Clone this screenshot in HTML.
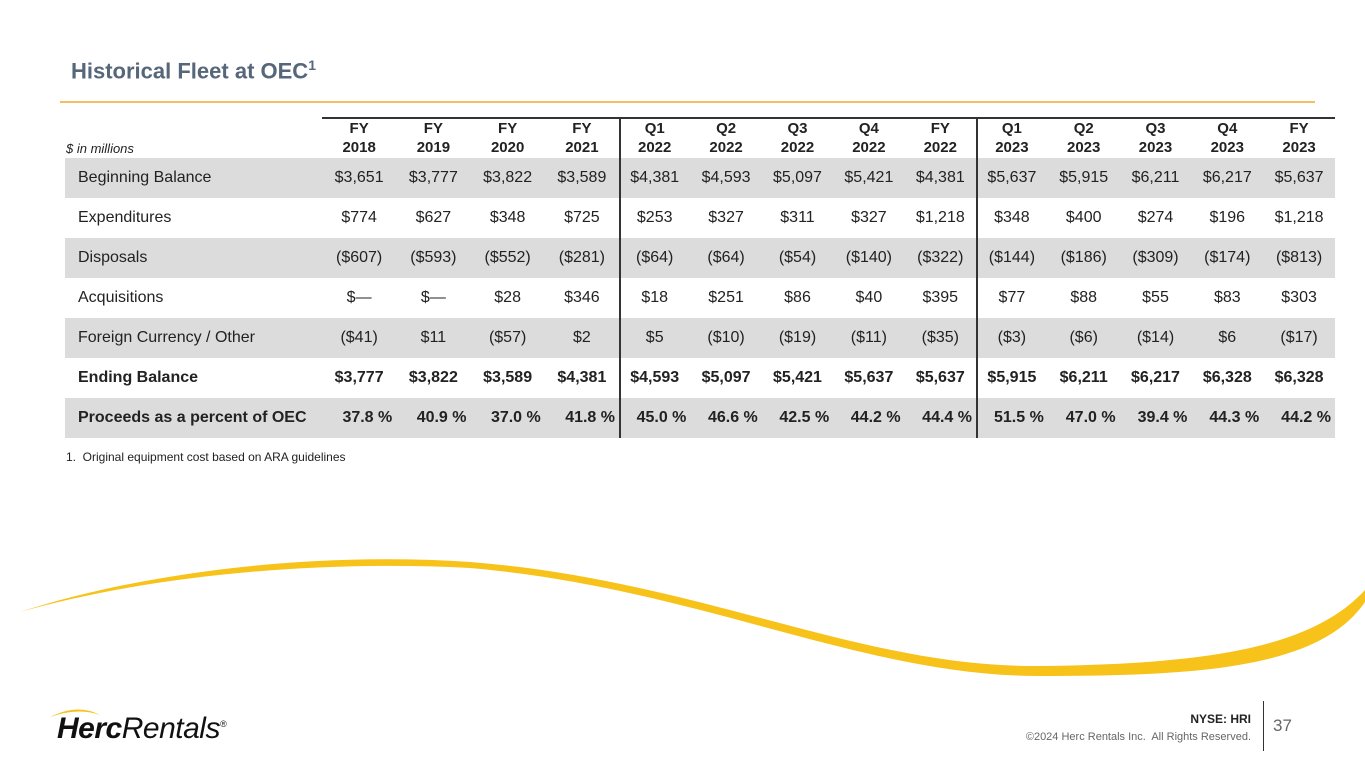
<!DOCTYPE html>
<html><head><meta charset="utf-8"><style>
body{margin:0;width:1365px;height:769px;overflow:hidden;background:#fff;font-family:"Liberation Sans",sans-serif;position:relative}
.a{position:absolute}
.cell{position:absolute;text-align:center;font-size:16px;color:#222;line-height:40px;height:40px}
.lbl{position:absolute;left:78px;font-size:16px;color:#222;line-height:40px}
.hd{position:absolute;text-align:center;font-size:15px;font-weight:bold;color:#222;line-height:19px}
</style></head><body>
<div class="a" style="left:71px;top:57px;font-size:22px;font-weight:bold;color:#56677a">Historical Fleet at OEC<sup style="font-size:14px">1</sup></div>
<div class="a" style="left:60px;top:101px;width:1255px;height:2px;background:#f2c060"></div>
<svg class="a" style="left:0;top:0" width="1365" height="769">
<path d="M20,612 C150,570 320,552 470,562 C700,580 860,668 1040,666 C1200,664 1310,650 1365,590 L1365,602 C1320,668 1200,676 1040,676 C860,676 700,588 470,568 C320,560 150,575 20,612Z" fill="#f7c21a"/>
</svg>
<div class="a" style="left:66px;top:141px;font-size:13px;font-style:italic;color:#222">$ in millions</div>
<div id="tbl"></div>
<div class="a" style="left:66px;top:450px;font-size:12px;color:#222">1.&nbsp; Original equipment cost based on ARA guidelines</div>
<div class="a" style="left:57px;top:712px;font-size:30px;color:#111;font-style:italic;letter-spacing:-0.5px"><b style="font-weight:900">Herc</b>Rentals<sup style="font-size:9px">®</sup></div>
<svg class="a" style="left:48px;top:705px" width="70" height="16"><path d="M2,12 Q30,-2 52,10 Q30,2 2,12Z" fill="#f7c21a"/></svg>
<div class="a" style="right:114px;top:712px;font-size:12px;font-weight:bold;color:#222">NYSE: HRI</div>
<div class="a" style="right:114px;top:731px;font-size:11px;color:#666">©2024 Herc Rentals Inc.&nbsp; All Rights Reserved.</div>
<div class="a" style="left:1263px;top:701px;width:1px;height:50px;background:#333"></div>
<div class="a" style="left:1273px;top:716px;font-size:17px;color:#666">37</div>
<script>
const periods=[["FY","2018"],["FY","2019"],["FY","2020"],["FY","2021"],["Q1","2022"],["Q2","2022"],["Q3","2022"],["Q4","2022"],["FY","2022"],["Q1","2023"],["Q2","2023"],["Q3","2023"],["Q4","2023"],["FY","2023"]];
const rowLabels=["Beginning Balance","Expenditures","Disposals","Acquisitions","Foreign Currency / Other","Ending Balance","Proceeds as a percent of OEC"];
const beginning=["$3,651","$3,777","$3,822","$3,589","$4,381","$4,593","$5,097","$5,421","$4,381","$5,637","$5,915","$6,211","$6,217","$5,637"];
const expenditures=["$774","$627","$348","$725","$253","$327","$311","$327","$1,218","$348","$400","$274","$196","$1,218"];
const disposals=["($607)","($593)","($552)","($281)","($64)","($64)","($54)","($140)","($322)","($144)","($186)","($309)","($174)","($813)"];
const acquisitions=["$—","$—","$28","$346","$18","$251","$86","$40","$395","$77","$88","$55","$83","$303"];
const fxOther=["($41)","$11","($57)","$2","$5","($10)","($19)","($11)","($35)","($3)","($6)","($14)","$6","($17)"];
const ending=["$3,777","$3,822","$3,589","$4,381","$4,593","$5,097","$5,421","$5,637","$5,637","$5,915","$6,211","$6,217","$6,328","$6,328"];
const proceeds=["37.8 %","40.9 %","37.0 %","41.8 %","45.0 %","46.6 %","42.5 %","44.2 %","44.4 %","51.5 %","47.0 %","39.4 %","44.3 %","44.2 %"];
const rows=[beginning,expenditures,disposals,acquisitions,fxOther,ending,proceeds];
const T=document.getElementById('tbl');
const bounds=[];
for(let i=0;i<4;i++)bounds.push([322+i*74.25,322+(i+1)*74.25]);
for(let i=0;i<5;i++)bounds.push([619+i*71.4,619+(i+1)*71.4]);
for(let i=0;i<5;i++)bounds.push([976+i*71.8,976+(i+1)*71.8]);
function add(html,cls,style){const d=document.createElement('div');d.className=cls;d.innerHTML=html;d.setAttribute('style',style);T.appendChild(d);return d;}
rows.forEach((r,ri)=>{
  const top=158+ri*40;
  if(ri%2===0){const g=add('','a','left:65px;top:'+top+'px;width:1270px;height:40px;background:#dcdcdc');
    
    }
  const bold=ri>=5?'font-weight:bold;':'';
  const l=add(rowLabels[ri],'lbl','top:'+top+'px;'+bold);
  
  
  r.forEach((v,ci)=>{const b=bounds[ci];
    const c=add(v,'cell','left:'+b[0]+'px;width:'+(b[1]-b[0])+'px;top:'+top+'px;'+bold+(ri===6?'text-align:right;':''));
    if(ri===6){c.style.width=(b[1]-b[0]-4)+'px';}
    
    });
});
periods.forEach((p,ci)=>{const b=bounds[ci];
  const h=add(p[0]+'<br>'+p[1],'hd','left:'+b[0]+'px;width:'+(b[1]-b[0])+'px;top:119px');
  
  });
const tl=add('','a','left:322px;top:117px;width:1013px;height:2px;background:#333');


[619,976].forEach(x=>{const v=add('','a','left:'+x+'px;top:117px;width:2px;height:321px;background:#333');
  
  });
</script>
</body></html>
